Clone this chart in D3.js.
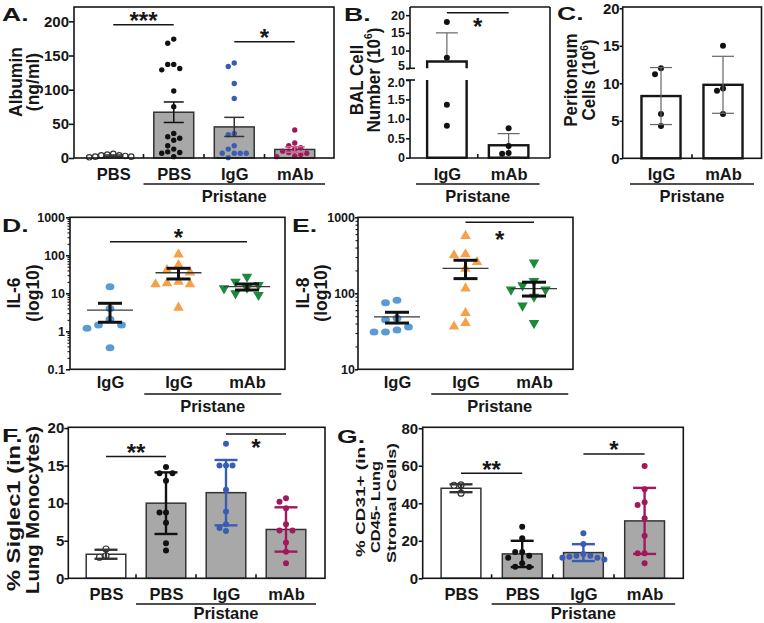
<!DOCTYPE html>
<html><head><meta charset="utf-8">
<script src="https://cdn.jsdelivr.net/npm/d3@7"></script>
<style>body{margin:0;background:#fff}</style>
</head><body>
<script>
// ================= DATA =================
// Panel A – Albumin (ng/ml), mean ± SEM
const catsA   = ["PBS", "Pristane PBS", "Pristane IgG", "Pristane mAb"];
const labelsA = ["PBS", "PBS", "IgG", "mAb"];
const meansA  = [3.4, 67, 45.5, 12.5];
const errsA   = [1.0, 15, 14, 4];
const ptsA = [
  [2, 4, 6, 3, 5, 2, 4, 1],
  [174, 168, 137, 137, 131, 129, 98, 75, 36, 31, 29, 26, 18, 13, 9, 8, 7, 2],
  [139, 134, 109, 87, 36, 34, 18, 13, 7, 7, 7, 7, 0.5],
  [41, 22, 18, 15, 13, 10, 8, 7, 5, 3, 2]
];
const ticksA = [0, 50, 100, 150, 200];
const sigA = [{a: 0, b: 1, v: 195, t: "***"}, {a: 2, b: 3, v: 170, t: "*"}];

// Panel B – BAL cell number (10^6), broken axis
const catsB   = ["IgG", "mAb"];
const meansB  = [6.9, 0.32];
const errsB   = [8.1, 0.3];
const ptsB    = [[18.1, 8.0, 1.36, 0.82], [0.76, 0.30, 0.10, 0.12]];
const ticksBlow = [0, 0.5, 1.0, 1.5, 2.0];
const ticksBup  = [5, 10, 15, 20];
const sigB = [{a: 0, b: 1, v: 20.7, t: "*"}];

// Panel C – Peritoneum cells (10^6)
const catsC  = ["IgG", "mAb"];
const meansC = [8.3, 9.8];
const errsC  = [3.8, 3.8];
const ptsC   = [[12.0, 11.2, 5.9, 4.3], [15.0, 9.3, 9.0, 5.9]];
const ticksC = [0, 5, 10, 15, 20];

// Panel D – IL-6 (log10), mean with SEM (lo/hi)
const catsD   = ["IgG", "Pristane IgG", "Pristane mAb"];
const labelsD = ["IgG", "IgG", "mAb"];
const meansD  = [3.6, 34.7, 14.9];
const loD     = [1.73, 23.8, 12.2];
const hiD     = [5.46, 45.5, 17.6];
const ptsD = [
  [14.9, 4.0, 2.07, 1.47, 1.47, 1.2, 0.37],
  [106, 55.6, 40.7, 35.5, 20.2, 18.3, 17.3, 17.3, 4.18],
  [27.4, 20.2, 16.5, 14, 13.5, 10, 9]
];
const ticksD = [0.1, 1, 10, 100, 1000];
const sigD = [{a: 0, b: 2, v: 228, t: "*"}];

// Panel E – IL-8 (log10)
const catsE   = ["IgG", "Pristane IgG", "Pristane mAb"];
const labelsE = ["IgG", "IgG", "mAb"];
const meansE  = [48.9, 213, 115];
const loE     = [40.6, 156, 92];
const hiE     = [56.3, 272, 140];
const ptsE = [
  [81, 75, 47, 45, 36, 33, 31, 31],
  [570, 326, 317, 258, 211, 116, 55, 40.6, 36.6],
  [253, 145, 127, 112, 112, 90, 69, 40.6]
];
const ticksE = [10, 100, 1000];
const sigE = [{a: 1, b: 2, v: 860, t: "*"}];

// Panel F – % Siglec1 in lung monocytes, mean ± SD
const catsF   = ["PBS", "Pristane PBS", "Pristane IgG", "Pristane mAb"];
const labelsF = ["PBS", "PBS", "IgG", "mAb"];
const meansF  = [3.2, 10.0, 11.4, 6.5];
const errsF   = [0.6, 4.1, 4.35, 2.95];
const ptsF = [
  [3.9, 3.0, 2.8],
  [14.8, 14, 14, 13, 8.75, 8.75, 7.4, 4.67, 3.7],
  [17.9, 15, 15, 15, 11.8, 8.9, 7.2, 6.7, 6.3],
  [10.67, 10.2, 9.33, 7.2, 6.35, 6.35, 4.75, 3.55, 2.0]
];
const ticksF = [0, 5, 10, 15, 20];
const sigF = [{a: 0, b: 1, v: 16.2, t: "**"}, {a: 2, b: 3, v: 19.2, t: "*"}];

// Panel G – % CD31+ in CD45- lung stromal cells, mean ± SD
const catsG   = ["PBS", "Pristane PBS", "Pristane IgG", "Pristane mAb"];
const labelsG = ["PBS", "PBS", "IgG", "mAb"];
const meansG  = [48, 13, 13.7, 30.6];
const errsG   = [2.1, 7.0, 4.5, 17.6];
const ptsG = [
  [49.8, 49.6, 45.4],
  [27.5, 21.3, 14, 14, 12, 11, 8, 6.2, 6],
  [24, 18.3, 13, 12, 12, 11, 11, 10, 11.5],
  [59.9, 47.5, 40.5, 39.1, 32, 22.7, 13.3, 13.3, 8]
];
const ticksG = [0, 20, 40, 60, 80];
const sigG = [{a: 0, b: 1, v: 56, t: "**"}, {a: 2, b: 3, v: 66.3, t: "*"}];

const groupLabel = "Pristane";

// ================= STYLE =================
const FONT = "'Liberation Sans', Arial, Helvetica, sans-serif";
const INK = "#161616";
const GRAY_BAR = "#a8a8a8";
const BLACK_DOT = "#111111";
const BLUE_DOT = "#3a5db4";
const MAG_DOT = "#a2195b";
const LBLUE = "#5b9bd5", ORANGE = "#f5a14a", GREEN = "#1c8a3c";

const svg = d3.select("body").append("svg")
  .attr("width", 764).attr("height", 623)
  .style("font-family", FONT).style("font-weight", "bold");
svg.append("rect").attr("width", 764).attr("height", 623).attr("fill", "#fff");

// ---------- helpers ----------
function swarm(vals, yf, cx, r, step) {
  const order = vals.map((v, i) => ({v, i, y: yf(v)})).sort((a, b) => a.y - b.y);
  const placed = [], out = new Array(vals.length);
  for (const p of order) {
    for (let k = 0; k < 60; k++) {
      const off = (k % 2 ? -1 : 1) * Math.ceil(k / 2) * step;
      const x = cx + off;
      if (placed.every(q => Math.hypot(q.x - x, q.y - p.y) >= 2 * r - 0.01)) {
        placed.push({x, y: p.y}); out[p.i] = {x, y: p.y, v: p.v}; break;
      }
    }
  }
  return out;
}
function line(x1, y1, x2, y2, col = INK, w = 1.6) {
  return svg.append("line").attr("x1", x1).attr("y1", y1).attr("x2", x2).attr("y2", y2)
    .attr("stroke", col).attr("stroke-width", w);
}
function frame(x0, x1, y0, y1, w = 1.6) {
  svg.append("rect").attr("x", x0).attr("y", y0).attr("width", x1 - x0).attr("height", y1 - y0)
    .attr("fill", "none").attr("stroke", INK).attr("stroke-width", w);
}
function text(x, y, s, fs, anchor = "middle") {
  return svg.append("text").attr("x", x).attr("y", y).attr("font-size", fs)
    .attr("text-anchor", anchor).attr("fill", INK).text(s);
}
function letter(x, y, s) {
  svg.append("text").attr("transform", `translate(${x},${y}) scale(1.4,1)`)
    .attr("font-size", 19).attr("fill", INK).text(s);
}
function rotTitle(lines, xs, cys, fs, sy, lens) {
  lines.forEach((l, i) => {
    const cy = Array.isArray(cys) ? cys[i] : cys;
    const t = svg.append("text")
      .attr("transform", `translate(${xs[i]},${cy}) rotate(-90) scale(1,${sy})`)
      .attr("x", 0).attr("y", 0)
      .attr("text-anchor", "middle").attr("font-size", fs).attr("fill", INK);
    if (Array.isArray(l)) {
      t.append("tspan").text(l[0]);
      t.append("tspan").text(l[1]).attr("font-size", fs * 0.6).attr("dy", -fs * 0.42);
      t.append("tspan").text(l[2]).attr("dy", fs * 0.42);
    } else t.text(l);
    if (lens && lens[i]) t.attr("textLength", lens[i]).attr("lengthAdjust", "spacingAndGlyphs");
  });
}
function yAxis(scale, x, ticks, fs, fmt, size = 4, pad = 1, w = 1.6) {
  const ax = d3.axisLeft(scale).tickValues(ticks).tickSize(size).tickPadding(pad);
  if (fmt) ax.tickFormat(fmt);
  const g = svg.append("g").attr("transform", `translate(${x},0)`).call(ax);
  g.select(".domain").remove();
  g.attr("font-family", FONT).attr("font-size", fs).attr("font-weight", "bold");
  g.selectAll("line").attr("stroke", INK).attr("stroke-width", w);
  g.selectAll("text").attr("fill", INK);
  return g;
}
function catLabels(x, labels, yBase, fs) {
  const ax = d3.axisBottom(x).tickSize(0).tickPadding(0).tickFormat((d, i) => labels[i]);
  const g = svg.append("g").attr("transform", `translate(0,${yBase})`).call(ax);
  g.select(".domain").remove();
  g.attr("font-family", FONT).attr("font-size", fs).attr("font-weight", "bold");
  g.selectAll("text").attr("y", 0).attr("dy", 0).attr("fill", INK);
}
function groupTicks(x, cats, yb) {
  for (let i = 0; i < cats.length - 1; i++) {
    const m = (x(cats[i]) + x(cats[i + 1])) / 2;
    line(m, yb - 4, m, yb, INK, 1.6);
  }
}
function bracket(x, cats, from, yLine, yText, fs) {
  const s = x.step();
  const a = x(cats[from]) - s / 2, b = x(cats[cats.length - 1]) + s / 2;
  line(a, yLine, b, yLine, INK, 1.4);
  text((a + b) / 2, yText, groupLabel, fs);
}
function sig(x, y, cats, list, offs, fs = 24) {
  list.forEach((s, k) => {
    const xa = x(cats[s.a]), xb = x(cats[s.b]), yy = y(s.v);
    line(xa, yy, xb, yy, INK, 1.5);
    text((xa + xb) / 2, yy + offs[k], s.t, fs);
  });
}
function errBar(cx, yLo, yHi, capW, col, w) {
  line(cx, yLo, cx, yHi, col, w);
  line(cx - capW / 2, yHi, cx + capW / 2, yHi, col, w);
  line(cx - capW / 2, yLo, cx + capW / 2, yLo, col, w);
}

// ---------- bar panel ----------
function barPanel(o) {
  const x = d3.scalePoint().domain(o.cats).range(o.xr).padding(0.5);
  const y = d3.scaleLinear().domain(o.yd).range([o.y1, o.y0]);
  const bw = x.step() * o.bwFrac;
  const idx = d3.range(o.cats.length);
  svg.append("g").selectAll("rect").data(idx).join("rect")
    .attr("x", i => x(o.cats[i]) - bw / 2).attr("y", i => y(o.means[i]))
    .attr("width", bw).attr("height", i => y(0) - y(o.means[i]))
    .attr("fill", i => o.barFill[i]).attr("stroke", o.barStroke).attr("stroke-width", o.barSW);
  idx.forEach(i => {
    const P = swarm(o.pts[i], y, x(o.cats[i]), o.r + 0.2, o.step);
    svg.append("g").selectAll("circle").data(P).join("circle")
      .attr("cx", d => d.x).attr("cy", d => d.y).attr("r", o.r)
      .attr("fill", o.open[i] ? "#fff" : o.dotColor[i])
      .attr("stroke", o.open[i] ? "#333" : "none").attr("stroke-width", 1.2);
  });
  idx.forEach(i => {
    const m = o.means[i], e = o.errs[i];
    errBar(x(o.cats[i]), y(Math.max(m - e, o.yd[0])), y(m + e), o.capW, o.errColor[i], o.errSW);
  });
  frame(o.x0, o.x1, o.y0, o.y1);
  yAxis(y, o.x0, o.ticks, o.tickFs, null, o.tickSize, o.tickPad);
  catLabels(x, o.labels, o.labelY, 16.5);
  groupTicks(x, o.cats, o.y1);
  bracket(x, o.cats, 1, o.brY, o.brTextY, 16.5);
  return {x, y};
}

// ---------- log scatter panel ----------
function logPanel(o) {
  const x = d3.scalePoint().domain(o.cats).range(o.xr).padding(0.5);
  const y = d3.scaleLog().domain(o.yd).range([o.y1, o.y0]);
  const idx = d3.range(o.cats.length);
  const shapes = ["ellipse", "up", "down"], cols = [LBLUE, ORANGE, GREEN];
  idx.forEach(i => {
    const P = swarm(o.pts[i], y, x(o.cats[i]), 4.6, 11.5);
    const g = svg.append("g");
    if (shapes[i] === "ellipse") {
      g.selectAll("ellipse").data(P).join("ellipse")
        .attr("cx", d => d.x).attr("cy", d => d.y).attr("rx", 4.4).attr("ry", 3.5).attr("fill", cols[i]);
    } else {
      const sym = d3.symbol(d3.symbolTriangle, 48);
      g.selectAll("path").data(P).join("path").attr("d", sym)
        .attr("transform", d => `translate(${d.x},${d.y})${shapes[i] === "down" ? " rotate(180)" : ""}`)
        .attr("fill", cols[i]);
    }
  });
  idx.forEach(i => {
    const cx = x(o.cats[i]);
    line(cx - 23, y(o.means[i]), cx + 23, y(o.means[i]), "#3a3a3a", 1.3);
    errBar(cx, y(o.lo[i]), y(o.hi[i]), 24, "#111", 3);
  });
  frame(o.x0, o.x1, o.y0, o.y1);
  const minor = [];
  for (let e = Math.round(Math.log10(o.yd[0])); e < Math.round(Math.log10(o.yd[1])); e++)
    for (let k = 2; k <= 9; k++) minor.push(k * Math.pow(10, e));
  yAxis(y, o.x0, minor, 1, () => "", 2.5, 0, 1.1);
  yAxis(y, o.x0, o.ticks, o.tickFs, d => d < 1 ? "0.1" : String(d), o.tickSize, o.tickPad);
  catLabels(x, o.labels, 388, 16.5);
  bracket(x, o.cats, 1, 394, 412, 16.5);
  return {x, y};
}

// ================= PANEL A =================
{
  const r = barPanel({
    cats: catsA, labels: labelsA, means: meansA, errs: errsA, pts: ptsA, ticks: ticksA,
    x0: 74, x1: 334, y0: 7, y1: 158, xr: [83, 325], yd: [0, 221], bwFrac: 0.66,
    barFill: ["#fff", GRAY_BAR, GRAY_BAR, GRAY_BAR], barStroke: "#333", barSW: 1.5,
    r: 2.7, step: 6, open: [true, false, false, false],
    dotColor: ["#fff", BLACK_DOT, BLUE_DOT, MAG_DOT],
    errColor: ["#333", "#111", "#333", "#d2638c"], errSW: 1.5, capW: 20,
    tickFs: 15, tickSize: 5, tickPad: 0, labelY: 180, brY: 184, brTextY: 202
  });
  sig(r.x, r.y, catsA, sigA, [4.5, 4.5]);
  rotTitle(["Albumin", "(ng/ml)"], [22, 39], 82, 17.5, 1.1);
  letter(2, 21, "A.");
}

// ================= PANEL B (broken axis) =================
{
  const x0 = 410, x1 = 550, y0 = 7, y1 = 158;
  const x = d3.scalePoint().domain(catsB).range([416, 539.5]).padding(0.5);
  const yUp = d3.scaleLinear().domain([5, 22.3]).range([68.3, 7]);
  const yLo = d3.scaleLinear().domain([0, 2.0]).range([157.7, 80]);
  const yB = v => v > 2.0 ? yUp(Math.max(v, 5)) : yLo(v);
  const bw = x.step() * 0.64;
  catsB.forEach((c, i) => {
    const m = meansB[i], a = x(c) - bw / 2, b = x(c) + bw / 2;
    if (m > 2.0) {
      svg.append("path").attr("d", `M${a},${yLo(2.0)}V${yLo(0)}H${b}V${yLo(2.0)}`)
        .attr("fill", "#fff").attr("stroke", INK).attr("stroke-width", 2.4);
      svg.append("path").attr("d", `M${a},${yUp(5)}V${yUp(m)}H${b}V${yUp(5)}`)
        .attr("fill", "#fff").attr("stroke", INK).attr("stroke-width", 2.4);
    } else {
      svg.append("rect").attr("x", a).attr("y", yLo(m)).attr("width", bw).attr("height", yLo(0) - yLo(m))
        .attr("fill", "#fff").attr("stroke", INK).attr("stroke-width", 2.4);
    }
  });
  catsB.forEach((c, i) => {
    const m = meansB[i], e = errsB[i], cx = x(c);
    const hi = yB(m + e), top = yB(m);
    line(cx, top, cx, hi, "#666", 1.2);
    line(cx - 11, hi, cx + 11, hi, "#666", 1.2);
    if (m - e >= 0) { const lo = yB(m - e); line(cx, lo, cx, top, "#666", 1.2); line(cx - 11, lo, cx + 11, lo, "#666", 1.2); }
  });
  catsB.forEach((c, i) => {
    const P = swarm(ptsB[i], yB, x(c), 3.2, 6.5);
    svg.append("g").selectAll("circle").data(P).join("circle")
      .attr("cx", d => d.x).attr("cy", d => d.y).attr("r", 3).attr("fill", BLACK_DOT);
  });
  line(x0, y0, x1, y0); line(x1, y0, x1, y1); line(x0, y1, x1, y1);
  line(x0, y0, x0, yUp(5)); line(x0, yLo(2.0), x0, y1);
  line(x0 - 4, yUp(5), x0 + 5, yUp(5)); line(x0 - 4, yLo(2.0), x0 + 5, yLo(2.0));
  const gu = yAxis(yUp, x0, ticksBup, 12.5, null, 4, 1);
  const gl = yAxis(yLo, x0, ticksBlow, 12.5, d => d === 0 ? "0" : d.toFixed(1), 4, 1);
  gu.selectAll(".tick text").filter(d => d === 5).attr("dy", "0.12em");
  gl.selectAll(".tick text").filter(d => d === 2).attr("dy", "0.5em");
  catLabels(x, catsB, 180, 16.5);
  groupTicks(x, catsB, y1);
  const s = x.step();
  line(x(catsB[0]) - s / 2, 184, x(catsB[1]) + s / 2, 184, INK, 1.4);
  text((x(catsB[0]) + x(catsB[1])) / 2, 202, groupLabel, 16.5);
  sig(x, yUp, catsB, sigB, [22.5]);
  rotTitle(["BAL Cell", ["Number (10", "6", ")"]], [363, 380], 80, 17, 1.1);
  letter(344, 21, "B.");
}

// ================= PANEL C =================
{
  const x0 = 622.7, x1 = 761.5, y0 = 7, y1 = 158.3;
  const x = d3.scalePoint().domain(catsC).range([630, 754]).padding(0.5);
  const y = d3.scaleLinear().domain([0, 20]).range([y1, 8.3]);
  const bw = x.step() * 0.63;
  svg.append("g").selectAll("rect").data(catsC).join("rect")
    .attr("x", c => x(c) - bw / 2).attr("y", (c, i) => y(meansC[i])).attr("width", bw)
    .attr("height", (c, i) => y(0) - y(meansC[i]))
    .attr("fill", "#fff").attr("stroke", INK).attr("stroke-width", 2.4);
  catsC.forEach((c, i) => {
    const P = swarm(ptsC[i], y, x(c), 3.2, 6);
    svg.append("g").selectAll("circle").data(P).join("circle")
      .attr("cx", d => d.x).attr("cy", d => d.y).attr("r", 3).attr("fill", BLACK_DOT);
    errBar(x(c), y(meansC[i] - errsC[i]), y(meansC[i] + errsC[i]), 22, "#666", 1.2);
  });
  frame(x0, x1, y0, y1);
  yAxis(y, x0, ticksC, 15, null, 3, 0);
  catLabels(x, catsC, 180, 16.5);
  groupTicks(x, catsC, y1);
  const s = x.step();
  line(x(catsC[0]) - s / 2, 184, x(catsC[1]) + s / 2, 184, INK, 1.4);
  text((x(catsC[0]) + x(catsC[1])) / 2, 202, groupLabel, 16.5);
  rotTitle(["Peritoneum", ["Cells (10", "6", ")"]], [577, 595], 80, 17, 1.05);
  letter(557, 20, "C.");
}

// ================= PANEL D =================
{
  const r = logPanel({
    cats: catsD, labels: labelsD, means: meansD, lo: loD, hi: hiD, pts: ptsD, ticks: ticksD,
    x0: 70, x1: 285, y0: 217.3, y1: 369.3, xr: [75.75, 281.25], yd: [0.1, 1000],
    tickFs: 12.5, tickSize: 4, tickPad: 1
  });
  sig(r.x, r.y, catsD, sigD, [4.5]);
  rotTitle(["IL-6", "(log10)"], [20, 39], 293, 17.5, 1.1);
  letter(2, 232, "D.");
}

// ================= PANEL E =================
{
  const r = logPanel({
    cats: catsE, labels: labelsE, means: meansE, lo: loE, hi: hiE, pts: ptsE, ticks: ticksE,
    x0: 358, x1: 573, y0: 217.3, y1: 369.3, xr: [362.75, 568.25], yd: [10, 1000],
    tickFs: 12.5, tickSize: 3, tickPad: 0
  });
  sig(r.x, r.y, catsE, sigE, [25.5]);
  rotTitle(["IL-8", "(log10)"], [309, 327], 293, 17.5, 1.1);
  letter(292, 232, "E.");
}

// ================= PANEL F =================
{
  const r = barPanel({
    cats: catsF, labels: labelsF, means: meansF, errs: errsF, pts: ptsF, ticks: ticksF,
    x0: 68.3, x1: 325, y0: 427.3, y1: 578.3, xr: [76, 316], yd: [0, 20.1], bwFrac: 0.66,
    barFill: ["#fff", GRAY_BAR, GRAY_BAR, GRAY_BAR], barStroke: "#333", barSW: 1.5,
    r: 3, step: 6.5, open: [true, false, false, false],
    dotColor: ["#fff", BLACK_DOT, BLUE_DOT, MAG_DOT],
    errColor: ["#333", "#111", BLUE_DOT, MAG_DOT], errSW: 2.4, capW: 23,
    tickFs: 15, tickSize: 4, tickPad: 0, labelY: 600, brY: 604, brTextY: 619
  });
  sig(r.x, r.y, catsF, sigF, [4.5, 21.5]);
  rotTitle(["% Siglec1 (in", "Lung Monocytes)"], [20, 39], [518, 510], 17, 1.1, [146, 168]);
  letter(2, 442, "F.");
}

// ================= PANEL G =================
{
  const r = barPanel({
    cats: catsG, labels: labelsG, means: meansG, errs: errsG, pts: ptsG, ticks: ticksG,
    x0: 422.7, x1: 683.3, y0: 427.3, y1: 578.3, xr: [430.4, 675.2], yd: [0, 80.5], bwFrac: 0.65,
    barFill: ["#fff", GRAY_BAR, GRAY_BAR, GRAY_BAR], barStroke: "#333", barSW: 1.5,
    r: 3, step: 7, open: [true, false, false, false],
    dotColor: ["#fff", BLACK_DOT, BLUE_DOT, MAG_DOT],
    errColor: ["#333", "#111", BLUE_DOT, MAG_DOT], errSW: 2.4, capW: 23,
    tickFs: 15, tickSize: 4, tickPad: 0.5, labelY: 600, brY: 604, brTextY: 619
  });
  sig(r.x, r.y, catsG, sigG, [4.5, 4.5]);
  rotTitle(["% CD31+ (in", "CD45- Lung", "Stromal Cells)"], [365, 380, 396], [502, 507, 503], 16.5, 0.82, [110, 92, 120]);
  letter(337, 443, "G.");
}
</script>
</body></html>
